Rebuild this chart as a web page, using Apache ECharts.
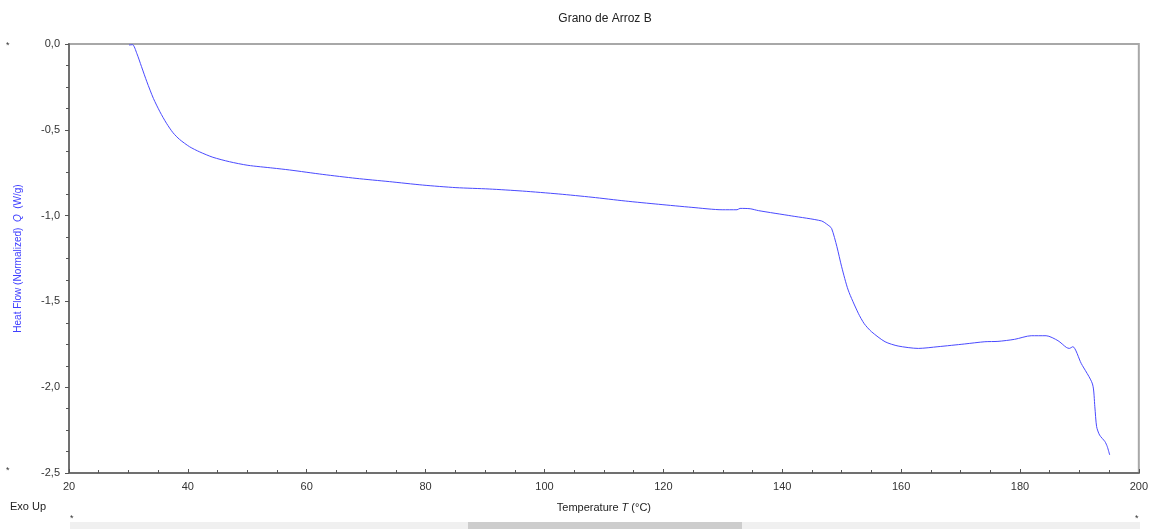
<!DOCTYPE html>
<html>
<head>
<meta charset="utf-8">
<script src="https://cdn.jsdelivr.net/npm/echarts@6/dist/echarts.min.js"></script>
<style>
html,body{margin:0;padding:0;background:#fff;}
#c{width:1151px;height:529px;}
</style>
</head>
<body>
<div id="c"></div>
<script>
const chartTitle = "Grano de Arroz B";
const temperature = [30.1,30.7,31.4,32.2,33.1,34.2,35.3,36.4,37.5,38.6,40.3,42.0,44.2,47.0,50.1,54.3,57.1,62.7,68.3,73.9,79.5,85.1,90.7,96.3,102.4,108.0,113.6,119.2,124.8,129.9,132.4,132.9,134.6,136.0,141.6,146.6,147.7,148.3,149.2,150.0,151.1,152.8,153.8,155.0,157.3,159.5,162.9,166.2,170.7,174.1,176.3,179.1,181.9,184.4,186.4,187.8,188.3,188.9,190.3,192.2,192.6,192.9,193.4,194.3,194.7,195.1];
const heatFlow = [-0.006,-0.004,-0.054,-0.132,-0.220,-0.317,-0.395,-0.462,-0.517,-0.556,-0.599,-0.629,-0.660,-0.686,-0.707,-0.723,-0.734,-0.760,-0.783,-0.802,-0.822,-0.837,-0.845,-0.857,-0.874,-0.893,-0.915,-0.934,-0.952,-0.966,-0.966,-0.958,-0.960,-0.971,-1.002,-1.031,-1.055,-1.074,-1.181,-1.298,-1.434,-1.569,-1.63,-1.676,-1.735,-1.760,-1.774,-1.764,-1.748,-1.735,-1.733,-1.721,-1.700,-1.700,-1.729,-1.768,-1.774,-1.764,-1.861,-1.981,-2.114,-2.230,-2.279,-2.317,-2.347,-2.395];

const seriesData = temperature.map((t, i) => [t, heatFlow[i]]);
const font = "Liberation Sans, Arial, sans-serif";

const chart = echarts.init(document.getElementById('c'), null, {renderer: 'canvas'});
chart.setOption({
  animation: false,
  backgroundColor: '#ffffff',
  title: {
    text: chartTitle,
    left: 600, top: 8, textAlign: 'center',
    textStyle: {fontFamily: font, fontSize: 12, fontWeight: 'normal', color: '#222'}
  },
  grid: {
    left: 69, right: 9, top: 44, bottom: 56,
    show: true, borderColor: '#a8a8a8', borderWidth: 2, backgroundColor: '#fff'
  },
  xAxis: {
    type: 'value', min: 20, max: 200, interval: 20,
    name: '{n|Temperature }{i|T}{n| (°C)}',
    nameLocation: 'middle', nameGap: 29,
    nameTextStyle: {
      rich: {
        n: {fontFamily: font, fontSize: 11, color: '#222'},
        i: {fontFamily: font, fontSize: 11, fontStyle: 'italic', color: '#222'}
      }
    },
    axisLine: {onZero: false, lineStyle: {color: '#707070', width: 2}},
    axisTick: {inside: true, length: 4, lineStyle: {color: '#555'}},
    minorTick: {show: true, splitNumber: 4, length: 3, lineStyle: {color: '#555'}},
    splitLine: {show: false},
    axisLabel: {fontFamily: font, fontSize: 11, color: '#333', margin: 8}
  },
  yAxis: {
    type: 'value', min: -2.5, max: 0, interval: 0.5,
    name: '{n|Heat Flow (Normalized)  }{i|Q}{n|  (W/g)}',
    nameLocation: 'middle', nameGap: 46,
    nameTextStyle: {
      rich: {
        n: {fontFamily: font, fontSize: 10, color: '#4040ff'},
        i: {fontFamily: font, fontSize: 10, fontStyle: 'italic', color: '#4040ff'}
      }
    },
    axisLine: {onZero: false, lineStyle: {color: '#707070', width: 2}},
    axisTick: {inside: false, length: 4, lineStyle: {color: '#555'}},
    minorTick: {show: true, splitNumber: 4, length: 3, lineStyle: {color: '#555'}},
    splitLine: {show: false},
    axisLabel: {
      fontFamily: font, fontSize: 11, color: '#333', margin: 9,
      formatter: v => v.toFixed(1).replace('.', ',')
    }
  },
  series: [{
    type: 'line',
    data: seriesData,
    showSymbol: false,
    smooth: 0.25,
    lineStyle: {color: '#4a4aff', width: 1},
    z: 3
  }],
  graphic: [
    {type: 'text', left: 10, top: 501, style: {text: 'Exo Up', font: '11px ' + font, fill: '#222'}},
    {type: 'text', left: 6, top: 41, style: {text: '*', font: '9px ' + font, fill: '#333'}},
    {type: 'text', left: 6, top: 466, style: {text: '*', font: '9px ' + font, fill: '#333'}},
    {type: 'text', left: 70, top: 514, style: {text: '*', font: '9px ' + font, fill: '#333'}},
    {type: 'text', left: 1135, top: 514, style: {text: '*', font: '9px ' + font, fill: '#333'}},
    {type: 'rect', shape: {x: 70, y: 522, width: 1070, height: 7}, style: {fill: '#f0f0f0'}},
    {type: 'rect', shape: {x: 468, y: 522, width: 274, height: 7}, style: {fill: '#cdcdcd'}}
  ]
});
</script>
</body>
</html>
